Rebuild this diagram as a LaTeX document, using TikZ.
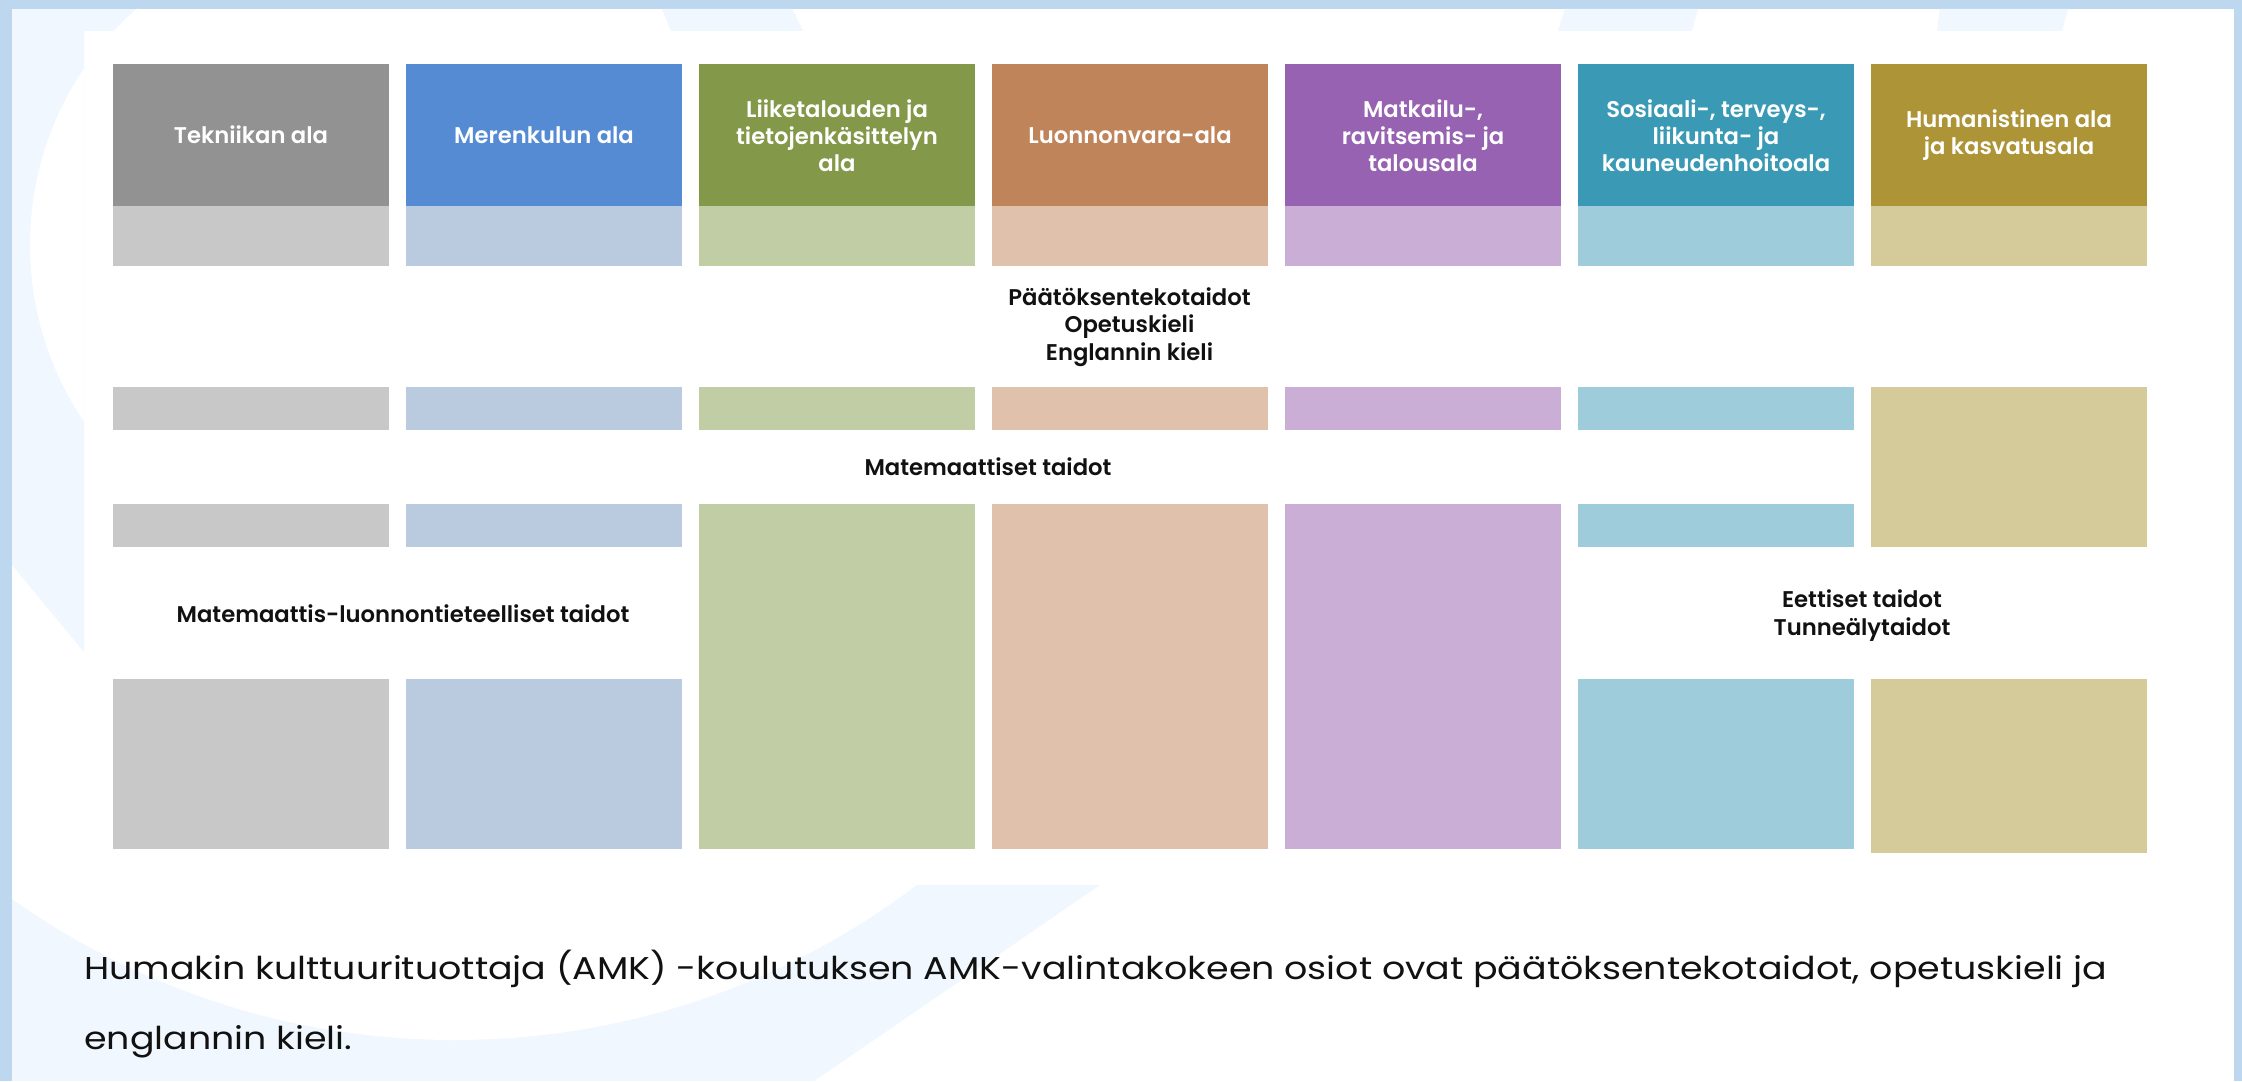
\documentclass[tikz,border=0pt]{standalone}
\usepackage{fontspec}
\setmainfont{Poppins}
\newfontfamily\semib{Poppins SemiBold}
\newfontfamily\bodyfont{Poppins}[FakeStretch=1.155]
\definecolor{frame}{HTML}{BDD7EE}
\definecolor{faint}{HTML}{F0F7FE}
\definecolor{cGrayD}{HTML}{939293}
\definecolor{cGrayL}{HTML}{C8C8C8}
\definecolor{cBlueD}{HTML}{548BD3}
\definecolor{cBlueL}{HTML}{BACADF}
\definecolor{cGreenD}{HTML}{839848}
\definecolor{cGreenL}{HTML}{C1CDA4}
\definecolor{cBrownD}{HTML}{C0845A}
\definecolor{cBrownL}{HTML}{E0C1AC}
\definecolor{cPurpD}{HTML}{9662B1}
\definecolor{cPurpL}{HTML}{CAAED6}
\definecolor{cTealD}{HTML}{3A9AB5}
\definecolor{cTealL}{HTML}{9ECCDA}
\definecolor{cOliveD}{HTML}{AD9436}
\definecolor{cOliveL}{HTML}{D5CA9A}
\definecolor{ink}{HTML}{111111}
\tikzset{
  hdr/.style={text=white, align=center, inner sep=0pt,
    font=\semib\fontsize{22.7}{27.2}\selectfont},
  midlabel/.style={text=ink, align=center, inner sep=0pt,
    font=\semib\fontsize{22.7}{27.3}\selectfont},
  bodytext/.style={text=ink, anchor=base west, inner sep=0pt,
    font=\bodyfont\fontsize{31.5}{70}\selectfont}
}
\begin{document}
\begin{tikzpicture}[x=1pt,y=-1pt]
\useasboundingbox (0,0) rectangle (2242,1081);
\fill[frame] (0,0) rectangle (2242,1081);
\fill[white] (12,9) rectangle (2233.5,1081);
% faint background decoration
\begin{scope}
  \clip (12,9) -- (140,9) -- (140,31) -- (84,31) -- (84,652) -- (12,565) -- cycle;
  \fill[faint] (12,9) rectangle (140,652);
  \fill[white] (345,245) circle[radius=315];
\end{scope}
\begin{scope}
  \clip (12,885) -- (1100,885) -- (814,1081) -- (12,1081) -- cycle;
  \fill[faint] (12,885) rectangle (1100,1081);
  \fill[white] (455,275) circle[radius=765];
\end{scope}
\fill[faint] (662,9) -- (792,9) -- (803,31) -- (671,31) -- cycle;
\fill[faint] (1565,9) -- (1698,9) -- (1692,31) -- (1558,31) -- cycle;
\fill[faint] (1940,9) -- (2068,9) -- (2062,31) -- (1937,31) -- cycle;
% column boxes
\foreach \i/\d/\l in {0/cGrayD/cGrayL,1/cBlueD/cBlueL,2/cGreenD/cGreenL,3/cBrownD/cBrownL,4/cPurpD/cPurpL,5/cTealD/cTealL,6/cOliveD/cOliveL}{
  \pgfmathsetmacro\L{113+293*\i}
  \pgfmathsetmacro\R{\L+276}
  \fill[\d] (\L,64) rectangle (\R,206);
  \fill[\l] (\L,206) rectangle (\R,266);
}
\foreach \i/\l in {0/cGrayL,1/cBlueL,2/cGreenL,3/cBrownL,4/cPurpL,5/cTealL}{
  \pgfmathsetmacro\L{113+293*\i}
  \pgfmathsetmacro\R{\L+276}
  \fill[\l] (\L,387) rectangle (\R,430);
}
\foreach \i/\l in {0/cGrayL,1/cBlueL,5/cTealL}{
  \pgfmathsetmacro\L{113+293*\i}
  \pgfmathsetmacro\R{\L+276}
  \fill[\l] (\L,504) rectangle (\R,547);
  \fill[\l] (\L,679) rectangle (\R,849);
}
\foreach \i/\l in {2/cGreenL,3/cBrownL,4/cPurpL}{
  \pgfmathsetmacro\L{113+293*\i}
  \pgfmathsetmacro\R{\L+276}
  \fill[\l] (\L,504) rectangle (\R,849);
}
\fill[cOliveL] (1871,387) rectangle (2147,547);
\fill[cOliveL] (1871,679) rectangle (2147,853);
% header texts
\node[hdr] (h1) at (251,135) {Tekniikan ala};
\node[hdr] (h2) at (544,135) {Merenkulun ala};
\node[hdr] (h3) at (837,135.5) {Liiketalouden ja\\tietojenkäsittelyn\\ala};
\node[hdr] (h4) at (1130,135) {Luonnonvara-ala};
\node[hdr] (h5) at (1423,135.5) {Matkailu-,\\ravitsemis- ja\\talousala};
\node[hdr] (h6) at (1716,135.5) {Sosiaali-, terveys-,\\liikunta- ja\\kauneudenhoitoala};
\node[hdr] (h7) at (2009,134.7) {Humanistinen ala\\ja kasvatusala};
% middle labels
\node[midlabel] (m1) at (1129.5,327) {Päätöksentekotaidot\\Opetuskieli\\Englannin kieli};
\node[midlabel] (m2) at (988,467) {Matemaattiset taidot};
\node[midlabel] (m3) at (403,614) {Matemaattis-luonnontieteelliset taidot};
\node[midlabel] (m4) at (1862,615.5) {Eettiset taidot\\Tunneälytaidot};
% body text
\node[bodytext] (b1) at (84,979) {Humakin kulttuurituottaja (AMK) -koulutuksen AMK-valintakokeen osiot ovat päätöksentekotaidot, opetuskieli ja};
\node[bodytext] (b2) at (84,1049) {englannin kieli.};
\end{tikzpicture}
\end{document}
